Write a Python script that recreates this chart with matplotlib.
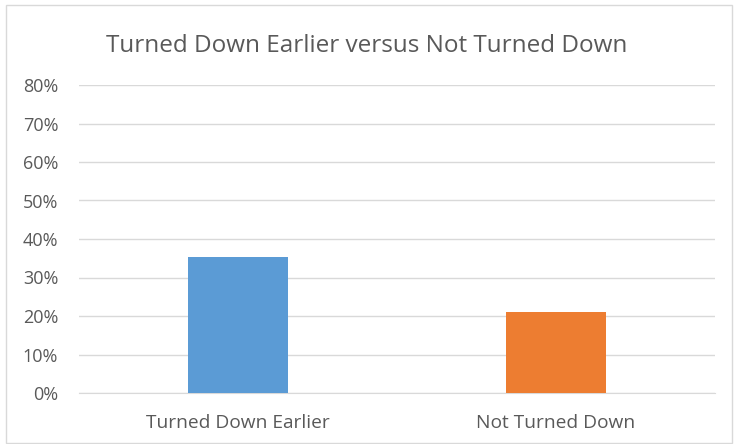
import matplotlib
matplotlib.use('Agg')
import matplotlib.pyplot as plt
from matplotlib.ticker import PercentFormatter
from matplotlib.patches import Rectangle

categories = ['Turned Down Earlier', 'Not Turned Down']
values = [0.353, 0.210]
colors = ['#5B9BD5', '#ED7D31']
title = 'Turned Down Earlier versus Not Turned Down'

plt.rcParams['font.family'] = ['Open Sans', 'DejaVu Sans']
text_color = '#595959'

fig = plt.figure(figsize=(7.34, 4.44), dpi=100)
ax = fig.add_axes([79 / 734, 51 / 444, 636 / 734, 308 / 444])

x = range(len(categories))
ax.bar(x, values, width=0.315, color=colors, zorder=3)

ax.set_ylim(0, 0.8)
ax.set_xlim(-0.5, 1.5)
ax.set_yticks([i / 10 for i in range(9)])
ax.yaxis.set_major_formatter(PercentFormatter(1.0, decimals=0))
ax.set_xticks(list(x))
ax.set_xticklabels(categories)
ax.grid(axis='y', color='#D9D9D9', linewidth=1, zorder=0)
for s in ax.spines.values():
    s.set_visible(False)
ax.spines['bottom'].set_visible(True)
ax.spines['bottom'].set_color('#D9D9D9')
ax.tick_params(axis='both', length=0, colors=text_color)
ax.tick_params(axis='y', pad=15, labelsize=13)
ax.tick_params(axis='x', pad=15, labelsize=13.8)

fig.text(0.5, 1 - 46 / 444, title, ha='center', va='center', fontsize=17.5, color=text_color)

fig.patches.append(Rectangle((6 / 734, 1 / 444), 726 / 734, 438 / 444, transform=fig.transFigure,
                             fill=False, edgecolor='#D9D9D9', linewidth=1))

fig.savefig('out.png', dpi=100)
